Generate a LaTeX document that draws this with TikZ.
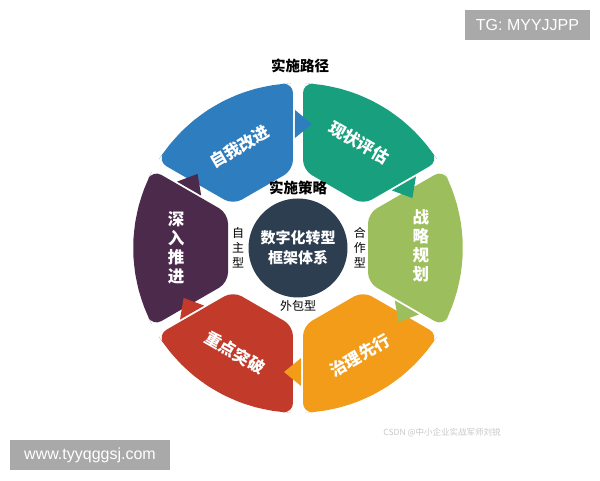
\documentclass[tikz,border=0pt]{standalone}
\usepackage{fontspec}
\setmainfont{Liberation Sans}
\newfontfamily\cjk{Noto Sans CJK SC}
\usetikzlibrary{calc,positioning}

\definecolor{segBlue}{HTML}{2E7EBF}
\definecolor{segTeal}{HTML}{18A07E}
\definecolor{segGreen}{HTML}{9DBE5C}
\definecolor{segOrange}{HTML}{F29C1A}
\definecolor{segRed}{HTML}{C23B2A}
\definecolor{segPurple}{HTML}{4B2A4C}
\definecolor{coreDark}{HTML}{2C3E50}
\definecolor{wmGray}{HTML}{A9A9A9}

% one block of the ring, centred on angle #1
\newcommand{\ringpart}[2]{%
  \begin{scope}[shift={(c)}, rotate=#1]
    \fill[fill=#2, rounded corners=10pt] (70,-34.6) -- (-28.26:165)
      \foreach \a in {-24,-18,...,24} {-- (\a:165)} -- (28.26:165) -- (70,34.6) -- cycle;
  \end{scope}}
% triangle in the gap after block #1
\newcommand{\gapmark}[2]{%
  \begin{scope}[shift={(c)}, rotate=#1]
    \fill[fill=#2] (121.0,-66.4) -- (96.8,-52.4) -- (100.4,-74.1) -- cycle;
  \end{scope}}

\begin{document}
\begin{tikzpicture}[x=1pt, y=1pt,
  seglabel/.style={font=\cjk\bfseries\fontsize{16.5}{19}\selectfont, text=white, align=center, inner sep=0pt},
  heading/.style={font=\cjk\bfseries\fontsize{14.5}{17}\selectfont, inner sep=0pt},
  modelabel/.style={font=\cjk\fontsize{12}{15}\selectfont, align=center, inner sep=0pt},
  wmbox/.style={fill=wmGray, text=white, font=\fontsize{16}{18}\selectfont, inner sep=0pt}]

  \useasboundingbox (0,0) rectangle (600,480);
  \coordinate (c) at (298,232);

  \foreach \ang/\col in {120/segBlue, 60/segTeal, 0/segGreen, -60/segOrange, -120/segRed, 180/segPurple}
    \ringpart{\ang}{\col};
  \foreach \ang/\col in {120/segBlue, 60/segTeal, 0/segGreen, -60/segOrange, -120/segRed, 180/segPurple}
    \gapmark{\ang}{\col};

  \node[circle, fill=coreDark, minimum size=99, inner sep=0pt, text=white, align=center,
    font=\cjk\bfseries\fontsize{15}{20}\selectfont] (core) at (c) {数字化转型\\框架体系};

  \node[seglabel, rotate=30] (improve) at ($(c)+(120:117)$) {自我改进};
  \node[seglabel, rotate=-30] (assess) at ($(c)+(60:122)$) {现状评估};
  \node[seglabel] (plan) at ($(c)+(1:123)$) {战\\略\\规\\划};
  \node[seglabel, rotate=30] (govern) at ($(c)+(-60:124)$) {治理先行};
  \node[seglabel, rotate=-30] (focus) at ($(c)+(-121:122)$) {重点突破};
  \node[seglabel] (deepen) at ($(c)+(180:122)$) {深\\入\\推\\进};

  \node[heading] (path) at (300,414) {实施路径};
  \node[heading] (strategy) [above=3.5pt of core] {实施策略};
  \node[modelabel] (self) [left=4pt of core] {自\\主\\型};
  \node[modelabel] (coop) [right=6pt of core] {合\\作\\型};
  \node[modelabel] (outsrc) [below=2.5pt of core] {外包型};

  \node[wmbox, minimum width=125, minimum height=30] (tg) at (527.5,455) {TG: MYYJJPP};
  \node[wmbox, minimum width=160, minimum height=30] (site) at (90,25) {www.tyyqggsj.com};
  \node[font=\cjk\fontsize{8.5}{10}\selectfont, text=black!22, inner sep=0pt] (csdn) at (442,47) {CSDN @中小企业实战军师刘锐};
\end{tikzpicture}
\end{document}
